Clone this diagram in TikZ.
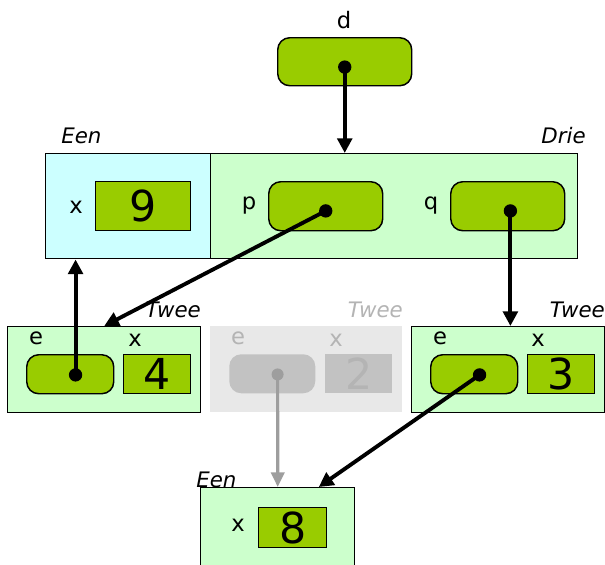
\documentclass[tikz,border=0pt]{standalone}
\usepackage{fontspec}
\setmainfont{DejaVu Sans}
\usetikzlibrary{arrows.meta}
\definecolor{val}{HTML}{99CC00}
\definecolor{objgreen}{HTML}{CCFFCC}
\definecolor{objcyan}{HTML}{CCFFFF}
\definecolor{ghostbg}{HTML}{E8E8E8}
\definecolor{ghostbox}{HTML}{C2C2C2}
\definecolor{ghosttext}{HTML}{B4B4B4}
\definecolor{ghostline}{HTML}{9E9E9E}
\tikzset{
  sz/.style 2 args={minimum width=#1*0.75pt, minimum height=#2*0.75pt},
  frame/.style={draw=black, line width=1.1pt, anchor=north west, inner sep=0pt},
  valbox/.style={draw=black, line width=1.1pt, fill=val, anchor=north west, inner sep=0pt, font=\fontsize{32}{32}\selectfont},
  ptrbox/.style={draw=black, line width=1.1pt, fill=val, anchor=north west, inner sep=0pt, rounded corners=9pt},
  lbl/.style={font=\fontsize{17}{17}\selectfont, inner sep=0pt},
  cls/.style={font=\fontsize{16}{16}\selectfont\itshape, inner sep=0pt},
  ref/.style={line width=2.9pt, -{Triangle[length=11pt,width=11pt]}},
  dotmark/.style={fill=black},
}
\begin{document}
\begin{tikzpicture}[x=0.75pt, y=-0.75pt]
\useasboundingbox (0,0) rectangle (605,564);

% variable d
\node[lbl] (dname) at (344,20) {d};
\node[ptrbox, sz={134}{48}] (dbox) at (277,37) {};
\coordinate (ddot) at ([yshift=-4pt]dbox.center);

% object Drie with its Een part
\node[frame, fill=objcyan, sz={165}{105}] (een1) at (45,153) {};
\node[frame, fill=objgreen, sz={367}{105}] (drie) at (210,153) {};
\node[cls, anchor=west] (een1lbl) at (61,136) {Een};
\node[cls, anchor=east] (drielbl) at (586,136) {Drie};
\node[lbl] (x1) at (76,207) {x};
\node[valbox, sz={95}{49}] (v9) at (95,181) {9};
\node[lbl] (pname) at (249,206) {p};
\node[ptrbox, sz={114}{49}] (pbox) at (268,181) {};
\coordinate (pdot) at ([yshift=-3.5pt]pbox.center);
\node[lbl] (qname) at (431,206) {q};
\node[ptrbox, sz={114}{49}] (qbox) at (450,181) {};
\coordinate (qdot) at ([xshift=2pt,yshift=-3.5pt]qbox.center);

% left Twee object
\node[frame, fill=objgreen, sz={193}{86}] (tw1) at (7,326) {};
\node[cls, anchor=east] (tw1lbl) at (201,310) {Twee};
\node[lbl] (e1) at (36,338) {e};
\node[lbl] (x2) at (135,340) {x};
\node[ptrbox, sz={87}{39}] (e1box) at (26,354) {};
\coordinate (e1dot) at ([xshift=4pt,yshift=-0.5pt]e1box.center);
\node[valbox, sz={67}{39}] (v4) at (123,354) {4};

% unreachable Twee object
\node[anchor=north west, inner sep=0pt, fill=ghostbg, sz={192}{86}] (tw2) at (210,326) {};
\node[cls, anchor=east, text=ghosttext] (tw2lbl) at (403,310) {Twee};
\node[lbl, text=ghosttext] (e2) at (238,338) {e};
\node[lbl, text=ghosttext] (x3) at (336,340) {x};
\node[anchor=north west, inner sep=0pt, fill=ghostbox, rounded corners=9pt, sz={86}{39}] (e2box) at (229,354) {};
\coordinate (e2dot) at ([xshift=4pt,yshift=-0.5pt]e2box.center);
\node[anchor=north west, inner sep=0pt, fill=ghostbox, text=ghosttext, font=\fontsize{32}{32}\selectfont, sz={67}{39}] (v2) at (325,354) {2};

% right Twee object
\node[frame, fill=objgreen, sz={193}{86}] (tw3) at (411,326) {};
\node[cls, anchor=east] (tw3lbl) at (605,310) {Twee};
\node[lbl] (e3) at (440,338) {e};
\node[lbl] (x4) at (538,340) {x};
\node[ptrbox, sz={87}{39}] (e3box) at (430,354) {};
\coordinate (e3dot) at ([xshift=4pt,yshift=-0.5pt]e3box.center);
\node[valbox, sz={67}{39}] (v3) at (527,354) {3};

% bottom Een object
\node[frame, fill=objgreen, sz={154}{90}] (een2) at (200,487) {};
\node[cls, anchor=west] (een2lbl) at (196,480) {Een};
\node[lbl] (x5) at (238,525) {x};
\node[valbox, sz={68}{40}] (v8) at (258,507) {8};

% references
\draw[ref, draw=ghostline, line width=2.4pt, -{Triangle[length=11pt,width=10pt]}] (e2dot) -- (een2.north);
\fill[ghostline] (e2dot) circle (4.5pt);
\draw[ref] (ddot) -- (ddot |- drie.north);
\draw[ref] (pdot) -- (tw1.north);
\draw[ref] (qdot) -- (qdot |- tw3.north);
\draw[ref] (e1dot) -- (e1dot |- een1.south);
\draw[ref] (e3dot) -- ([xshift=30.75pt]een2.north);
\foreach \d in {ddot,pdot,qdot,e1dot,e3dot}
  \fill[dotmark] (\d) circle (5pt);
\end{tikzpicture}
\end{document}
